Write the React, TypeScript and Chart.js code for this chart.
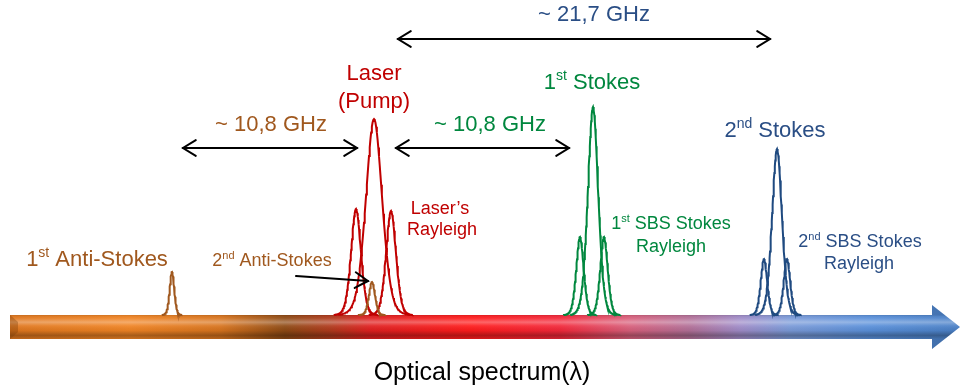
import React, { useEffect, useRef } from "react";
import { Chart, registerables } from "chart.js";

Chart.register(...registerables);

// ---- Data (x: spectral position units, y: intensity units, 0 = baseline) ----
const peakNames = [
  "1st Anti-Stokes",
  "2nd Anti-Stokes",
  "Laser's Rayleigh (left)",
  "Laser (Pump)",
  "Laser's Rayleigh (right)",
  "1st SBS Stokes Rayleigh (left)",
  "1st Stokes",
  "1st SBS Stokes Rayleigh (right)",
  "2nd SBS Stokes Rayleigh (left)",
  "2nd Stokes",
  "2nd SBS Stokes Rayleigh (right)",
];
const peakCenters = [172, 372, 356, 374, 391, 580, 593, 604, 764, 777, 787];
const peakHeights = [43, 33, 106, 196, 104, 78, 208, 78, 56, 166, 56];
const peakWidths = [2.4, 3.2, 5.2, 8.5, 5.2, 3.9, 5.4, 3.9, 3.4, 5.2, 3.4];
const peakGroups = ["anti", "anti", "laser", "laser", "laser", "s1", "s1", "s1", "s2", "s2", "s2"];

const groupColors: Record<string, string> = {
  anti: "#A0581E",
  laser: "#C00000",
  s1: "#00873E",
  s2: "#1F4A80",
};

// Spacing arrows
const arrowStarts = [398, 183, 396, 296];
const arrowEnds = [770, 357, 569, 368];
const arrowY1 = [276, 167, 167, 39];
const arrowY2 = [276, 167, 167, 34];
const arrowDouble = [true, true, true, false];

// Labels: text parts ("^" prefix = superscript)
const labelTexts: string[][] = [
  ["~ 21,7 GHz"],
  ["~ 10,8 GHz"],
  ["~ 10,8 GHz"],
  ["Laser"],
  ["(Pump)"],
  ["1", "^st", " Stokes"],
  ["2", "^nd", " Stokes"],
  ["Laser\u2019s"],
  ["Rayleigh"],
  ["1", "^st", " SBS Stokes"],
  ["Rayleigh"],
  ["2", "^nd", " SBS Stokes"],
  ["Rayleigh"],
  ["1", "^st", " Anti-Stokes"],
  ["2", "^nd", " Anti-Stokes"],
  ["Optical spectrum(\u03bb)"],
];
const labelX = [594, 271, 490, 374, 374, 592, 775, 440, 442, 671, 671, 860, 859, 97, 272, 482];
const labelY = [300, 190, 190, 241, 213, 232, 184, 106, 85, 91, 68, 73, 51, 55, 54, -58];
const labelSize = [22, 22, 22, 22, 22, 22, 22, 18, 18, 18, 18, 18, 18, 22, 18, 25];
const labelColor = [
  "#2A4E85", "#A0581E", "#00873E", "#C00000", "#C00000", "#00873E", "#2A4E85",
  "#C00000", "#C00000", "#00873E", "#00873E", "#2A4E85", "#2A4E85", "#A0581E", "#A0581E", "#000000",
];

// Spectrum axis arrow
const axisStart = 10;
const axisShaftEnd = 932;
const axisTip = 960;
const axisTop = 0;
const axisBottom = -24;
const axisHeadTop = 10;
const axisHeadBottom = -34;

const FONT = "'Liberation Sans', Arial, Helvetica, sans-serif";

function profile(d: number) {
  return 0.72 * Math.exp(-0.5 * d * d) + 0.28 / (1 + d * d);
}

function peakPoints(c: number, h: number, s: number) {
  const pts: { x: number; y: number }[] = [];
  const n = 100;
  const cut = 4.2;
  const base = profile(cut);
  const norm = profile(0) - base;
  for (let i = 0; i <= n; i++) {
    const d = -cut + (2 * cut * i) / n;
    pts.push({ x: c + d * s, y: (h * (profile(d) - base)) / norm });
  }
  return pts;
}

const axisPlugin = {
  id: "spectrumAxis",
  beforeDatasetsDraw(chart: any) {
    const { ctx, scales } = chart;
    const X = (v: number) => scales.x.getPixelForValue(v);
    const Y = (v: number) => scales.y.getPixelForValue(v);
    ctx.save();
    const path = () => {
      ctx.beginPath();
      ctx.moveTo(X(axisStart), Y(axisTop));
      ctx.lineTo(X(axisShaftEnd), Y(axisTop));
      ctx.lineTo(X(axisShaftEnd), Y(axisHeadTop));
      ctx.lineTo(X(axisTip), Y((axisTop + axisBottom) / 2));
      ctx.lineTo(X(axisShaftEnd), Y(axisHeadBottom));
      ctx.lineTo(X(axisShaftEnd), Y(axisBottom));
      ctx.lineTo(X(axisStart), Y(axisBottom));
      ctx.closePath();
    };
    const x0 = X(axisStart), x1 = X(axisTip);
    const g = ctx.createLinearGradient(x0, 0, x1, 0);
    const stops: [number, string][] = [
      [10, "#E0771E"], [130, "#F08424"], [220, "#D8741E"], [285, "#8E4A14"],
      [330, "#B03A1C"], [370, "#E02020"], [470, "#FF1C1C"], [560, "#F3283A"],
      [630, "#D8607C"], [690, "#B27098"], [740, "#A08CC8"], [790, "#7A9AD8"],
      [870, "#5A90DA"], [960, "#4A80C6"],
    ];
    stops.forEach(([v, c]) => g.addColorStop((v - axisStart) / (axisTip - axisStart), c));
    path();
    ctx.fillStyle = g;
    ctx.fill();
    const vt = Y(axisTop), vb = Y(axisBottom);
    const vg = ctx.createLinearGradient(0, vt, 0, vb);
    vg.addColorStop(0, "rgba(0,0,0,0.12)");
    vg.addColorStop(0.12, "rgba(255,255,255,0.05)");
    vg.addColorStop(0.3, "rgba(255,255,255,0.32)");
    vg.addColorStop(0.45, "rgba(255,255,255,0.08)");
    vg.addColorStop(0.65, "rgba(0,0,0,0.05)");
    vg.addColorStop(0.85, "rgba(0,0,0,0.3)");
    vg.addColorStop(1, "rgba(0,0,0,0.15)");
    path();
    ctx.fillStyle = vg;
    ctx.fill();
    // left bevel
    const lx = X(axisStart), ty = Y(axisTop), by = Y(axisBottom);
    ctx.beginPath();
    ctx.moveTo(lx, ty);
    ctx.lineTo(lx + 8, ty + 7);
    ctx.lineTo(lx + 8, by - 7);
    ctx.lineTo(lx, by);
    ctx.closePath();
    ctx.fillStyle = "rgba(120,60,10,0.35)";
    ctx.fill();
    ctx.restore();
  },
};

function drawArrowHead(ctx: any, tx: number, ty: number, fx: number, fy: number) {
  const ang = Math.atan2(ty - fy, tx - fx);
  const len = 15, spread = 0.55;
  ctx.beginPath();
  ctx.moveTo(tx - len * Math.cos(ang - spread), ty - len * Math.sin(ang - spread));
  ctx.lineTo(tx, ty);
  ctx.lineTo(tx - len * Math.cos(ang + spread), ty - len * Math.sin(ang + spread));
  ctx.stroke();
}

const annotPlugin = {
  id: "annotations",
  afterDraw(chart: any) {
    const { ctx, scales } = chart;
    const X = (v: number) => scales.x.getPixelForValue(v);
    const Y = (v: number) => scales.y.getPixelForValue(v);
    ctx.save();
    ctx.strokeStyle = "#000";
    ctx.lineWidth = 2;
    ctx.lineCap = "round";
    ctx.lineJoin = "miter";
    for (let i = 0; i < arrowStarts.length; i++) {
      const ax = X(arrowStarts[i]), bx = X(arrowEnds[i]);
      const ay = Y(arrowY1[i]), by = Y(arrowY2[i]);
      ctx.beginPath();
      ctx.moveTo(ax, ay);
      ctx.lineTo(bx, by);
      ctx.stroke();
      drawArrowHead(ctx, bx, by, ax, ay);
      if (arrowDouble[i]) drawArrowHead(ctx, ax, ay, bx, by);
    }
    ctx.textBaseline = "middle";
    ctx.textAlign = "left";
    for (let i = 0; i < labelTexts.length; i++) {
      const size = labelSize[i];
      const parts = labelTexts[i].map((p) => ({
        sup: p.startsWith("^"),
        t: p.startsWith("^") ? p.slice(1) : p,
      }));
      const fontFor = (sup: boolean) => `${sup ? Math.round(size * 0.62) : size}px ${FONT}`;
      let total = 0;
      const widths = parts.map((p) => {
        ctx.font = fontFor(p.sup);
        const w = ctx.measureText(p.t).width;
        total += w;
        return w;
      });
      let cx = X(labelX[i]) - total / 2;
      const cy = Y(labelY[i]);
      ctx.fillStyle = labelColor[i];
      parts.forEach((p, k) => {
        ctx.font = fontFor(p.sup);
        ctx.fillText(p.t, cx, p.sup ? cy - size * 0.3 : cy);
        cx += widths[k];
      });
    }
    ctx.restore();
  },
};

export default function App() {
  const ref = useRef<HTMLCanvasElement | null>(null);
  useEffect(() => {
    if (!ref.current) return;
    const datasets = peakCenters.map((c, i) => ({
      label: peakNames[i],
      data: peakPoints(c, peakHeights[i], peakWidths[i]),
      borderColor: groupColors[peakGroups[i]],
      borderWidth: 2,
      pointRadius: 0,
      showLine: true,
      fill: false,
      tension: 0,
    }));
    const chart = new Chart(ref.current, {
      type: "scatter",
      data: { datasets },
      options: {
        animation: false,
        responsive: false,
        maintainAspectRatio: false,
        layout: { padding: 0 },
        plugins: { legend: { display: false }, tooltip: { enabled: false } },
        scales: {
          x: { type: "linear", min: 0, max: 960, display: false },
          y: { type: "linear", min: -76, max: 315, display: false },
        },
      },
      plugins: [axisPlugin, annotPlugin],
    } as any);
    return () => chart.destroy();
  }, []);
  return (
    <div style={{ position: "fixed", left: 0, top: 0, width: 960, height: 391, background: "#fff" }}>
      <canvas ref={ref} width={960} height={391} style={{ display: "block" }} />
    </div>
  );
}
